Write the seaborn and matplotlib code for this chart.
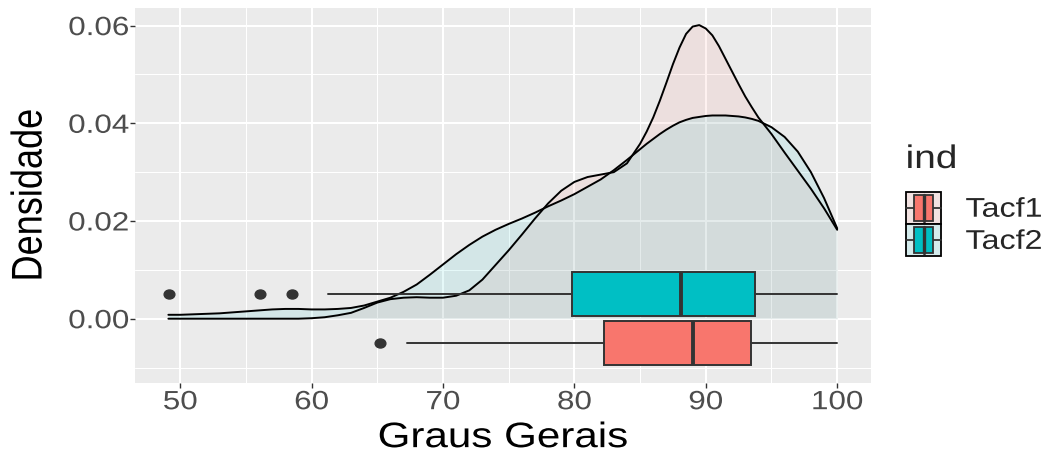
import matplotlib
matplotlib.use("Agg")
import matplotlib.pyplot as plt
import pandas as pd
import seaborn as sns
from matplotlib.legend_handler import HandlerBase
from matplotlib.lines import Line2D
from matplotlib.markers import MarkerStyle
from matplotlib.patches import Patch, Rectangle
from matplotlib.patheffects import AbstractPathEffect
from matplotlib.ticker import FormatStrFormatter, MultipleLocator
from matplotlib.transforms import Affine2D

# --- dados -----------------------------------------------------------------
GRAUS = [49.1, 50, 51, 52, 53, 54, 55, 56, 57, 58, 59, 60, 61, 62, 63, 64,
         65, 66, 67, 68, 69, 70, 71, 72, 73, 74, 75, 76, 77, 78, 79, 80, 81,
         82, 83, 84, 85, 85.5, 86, 86.5, 87, 87.5, 88, 88.5, 89, 89.5, 90,
         90.5, 91, 91.5, 92, 92.5, 93, 93.5, 94, 95, 96, 97, 98, 99, 100]
DENS_TACF1 = [0.0, 0.0, 0.0, 0.0, 0.0, 0.0, 0.0, 0.0, 0.0, 0.0, 0.0, 0.0001,
              0.0003, 0.0007, 0.0012, 0.0022, 0.0033, 0.0040, 0.0043, 0.0044,
              0.0043, 0.0043, 0.0047, 0.0058, 0.0080, 0.0110, 0.0140, 0.0172,
              0.0205, 0.0236, 0.0262, 0.0280, 0.0290, 0.0295, 0.0300, 0.0318,
              0.0358, 0.0383, 0.0412, 0.0446, 0.0483, 0.0521, 0.0555, 0.0583,
              0.0598, 0.0601, 0.0594, 0.0580, 0.0558, 0.0532, 0.0506, 0.0480,
              0.0455, 0.0433, 0.0412, 0.0378, 0.0340, 0.0303, 0.0266, 0.0226,
              0.0182]
DENS_TACF2 = [0.0008, 0.0008, 0.0009, 0.0010, 0.0011, 0.0013, 0.0015, 0.0017,
              0.0019, 0.0020, 0.0020, 0.0019, 0.0019, 0.0020, 0.0022, 0.0027,
              0.0035, 0.0043, 0.0055, 0.0070, 0.0090, 0.0111, 0.0132, 0.0151,
              0.0168, 0.0182, 0.0194, 0.0205, 0.0217, 0.0230, 0.0242, 0.0255,
              0.0270, 0.0285, 0.0304, 0.0325, 0.0347, 0.0358, 0.0368, 0.0378,
              0.0387, 0.0395, 0.0402, 0.0407, 0.0411, 0.0413, 0.0415, 0.0416,
              0.0416, 0.0416, 0.0415, 0.0414, 0.0412, 0.0409, 0.0405, 0.0392,
              0.0372, 0.0342, 0.0300, 0.0247, 0.0185]

GRUPOS = ["Tacf1", "Tacf2"]
CORES = ["#F8766D", "#00BFC4"]

# resumo dos boxplots (mesma ordem de GRUPOS)
Q1 = [82.24, 79.79]
MEDIANA = [89.01, 88.15]
Q3 = [93.45, 93.73]
BIGODE_INF = [67.24, 61.23]
BIGODE_SUP = [100.0, 100.0]
OUTLIERS = [[65.19], [49.14, 56.06, 58.49]]

ESTICA = 1.19        # a figura original foi esticada na horizontal
ESCURO = "#333333"


class EsticaX(AbstractPathEffect):
    """Estica o texto só na horizontal (como no png original)."""

    def __init__(self, sx, ancora="center"):
        super().__init__()
        self.sx, self.ancora = sx, ancora

    def draw_path(self, renderer, gc, tpath, affine, rgbFace=None):
        bb = tpath.get_extents(affine)
        x0 = {"left": bb.x0, "right": bb.x1}.get(self.ancora, (bb.x0 + bb.x1) / 2)
        t = affine + Affine2D().translate(-x0, 0).scale(self.sx, 1).translate(x0, 0)
        renderer.draw_path(gc, tpath, t, rgbFace)


def estica(textos, ancora="center"):
    for t in textos:
        t.set_path_effects([EsticaX(ESTICA, ancora)])


class ChaveBox(HandlerBase):
    """Chave da legenda no estilo ggplot: densidade + boxplot."""

    def create_artists(self, legend, orig_handle, xdescent, ydescent,
                       width, height, fontsize, trans):
        x0, y0 = -xdescent, -ydescent
        cor = orig_handle.get_facecolor()
        base = Rectangle((x0, y0), width, height, facecolor="#F2F2F2",
                         edgecolor="none", transform=trans)
        fundo = Rectangle((x0, y0), width, height, facecolor=(*cor[:3], 0.12),
                          edgecolor="black", lw=1.3, transform=trans)
        ym = y0 + height / 2
        bigode = Line2D([x0, x0 + width], [ym, ym], color=ESCURO, lw=1.3,
                        transform=trans)
        caixa = Rectangle((x0 + 0.22 * width, y0 + 0.1 * height),
                          0.56 * width, 0.8 * height, facecolor=cor,
                          edgecolor=ESCURO, lw=1.3, transform=trans)
        med = Line2D([x0 + width / 2] * 2,
                     [y0 + 0.1 * height, y0 + 0.9 * height],
                     color=ESCURO, lw=2.4, transform=trans)
        return [base, fundo, bigode, caixa, med]


sns.set_theme(style="darkgrid", rc={"axes.facecolor": "#EBEBEB",
                                    "figure.facecolor": "white"})
plt.rcParams["font.family"] = ["Liberation Sans", "DejaVu Sans"]

df = pd.DataFrame({
    "grau": GRAUS * 2,
    "densidade": DENS_TACF1 + DENS_TACF2,
    "ind": [GRUPOS[0]] * len(GRAUS) + [GRUPOS[1]] * len(GRAUS),
})

fig = plt.figure(figsize=(10.49, 4.55), dpi=100)
ax = fig.add_axes([135 / 1049, 1 - 382.7 / 455, 735.7 / 1049, 374.7 / 455])

for ind, cor in zip(GRUPOS, CORES):
    g = df[df["ind"] == ind]
    ax.fill_between(g["grau"], 0, g["densidade"], color=cor, alpha=0.1,
                    lw=0, zorder=1)
    sns.lineplot(data=g, x="grau", y="densidade", color="black", lw=1.4,
                 sort=False, estimator=None, ax=ax, zorder=2)

stats = [dict(q1=a, med=m, q3=b, whislo=lo, whishi=hi, fliers=f)
         for a, m, b, lo, hi, f in zip(Q1, MEDIANA, Q3, BIGODE_INF,
                                        BIGODE_SUP, OUTLIERS)]
ponto = MarkerStyle("o", transform=Affine2D().scale(ESTICA, 1))
bp = ax.bxp(stats, positions=[-0.005, 0.005], widths=0.009,
            orientation="horizontal", patch_artist=True, showcaps=False,
            manage_ticks=False, zorder=3,
            boxprops=dict(edgecolor=ESCURO, lw=1.4),
            whiskerprops=dict(color=ESCURO, lw=1.4),
            medianprops=dict(color=ESCURO, lw=2.8),
            flierprops=dict(marker=ponto, markerfacecolor=ESCURO,
                            markeredgecolor=ESCURO, markersize=6.5))
for caixa, cor in zip(bp["boxes"], CORES):
    caixa.set_facecolor(cor)

ax.set_xlim(46.56, 102.55)
ax.set_ylim(-0.0131, 0.0636)
ax.set_xticks([50, 60, 70, 80, 90, 100])
ax.set_yticks([0.0, 0.02, 0.04, 0.06])
ax.xaxis.set_minor_locator(MultipleLocator(5))
ax.yaxis.set_minor_locator(MultipleLocator(0.01))
ax.yaxis.set_major_formatter(FormatStrFormatter("%.2f"))
ax.grid(which="major", color="white", lw=1.5)
ax.grid(which="minor", color="white", lw=0.75)
ax.tick_params(which="major", bottom=True, left=True, length=3.4, width=1.0,
               color=ESCURO, labelsize=19, labelcolor="#4D4D4D")
ax.tick_params(axis="x", which="major", pad=2)
ax.tick_params(axis="y", which="major", pad=1)
ax.tick_params(which="minor", length=0)
for s in ax.spines.values():
    s.set_visible(False)

ax.set_xlabel("Graus Gerais", fontsize=25.5, color="black", labelpad=5)
ax.set_ylabel("Densidade", fontsize=26, color="black", labelpad=22)

leg = fig.legend([Patch(facecolor=c) for c in CORES], GRUPOS,
                 handler_map={Patch: ChaveBox()}, title="ind",
                 loc="upper left", bbox_to_anchor=(906 / 1049, 1 - 144 / 455),
                 frameon=False, fontsize=19.5, title_fontsize=23.5,
                 alignment="left", borderpad=0, borderaxespad=0,
                 handlelength=1.3, handleheight=1.45, handletextpad=0.9,
                 labelspacing=0)
leg._legend_box.sep = 12   # espaço entre título e chaves

estica(ax.get_xticklabels(), "center")
estica(ax.get_yticklabels(), "right")
estica([ax.xaxis.label, ax.yaxis.label], "center")
estica(leg.get_texts() + [leg.get_title()], "left")

fig.savefig("out.png", dpi=100)
